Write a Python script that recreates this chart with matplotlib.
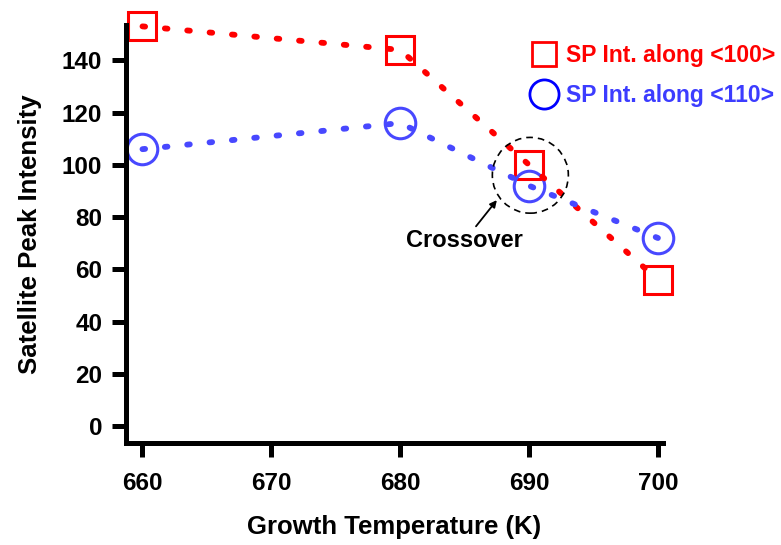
import matplotlib.pyplot as plt
from matplotlib.lines import Line2D
from matplotlib.patches import Ellipse

plt.rcParams["font.family"] = ["Liberation Sans", "DejaVu Sans"]
plt.rcParams["font.weight"] = "bold"

# growth temperatures and satellite peak intensities
temps = [660, 680, 690, 700]
sp_100 = [153, 144, 100, 56]
sp_110 = [106, 116, 92, 72]

red = "#ff0000"
blue_line = "#4848ff"
blue_text = "#3c3cff"

fig = plt.figure(figsize=(7.81, 5.45), dpi=100)
ax = fig.add_axes([0.161, 0.187, 0.688, 0.767])

dots = (0, (0.45, 3.4))
ax.plot(temps, sp_100, ls="none", marker="s", ms=20, mfc="none",
        mec=red, mew=2.2, zorder=2, clip_on=False)
ax.plot(temps, sp_110, ls="none", marker="o", ms=22, mfc="none",
        mec=blue_line, mew=2.2, zorder=2, clip_on=False)
ax.plot(temps, sp_100, color=red, lw=4.2, ls=dots,
        dash_capstyle="round", zorder=3, clip_on=False)
ax.plot(temps, sp_110, color=blue_line, lw=4.2, ls=dots,
        dash_capstyle="round", zorder=3, clip_on=False)

# dashed ring around the crossover point
ax.add_patch(Ellipse((690.1, 96), 5.9, 29, fill=False, ec="black",
                     lw=1.2, ls=(0, (4, 3)), zorder=4))
ax.annotate("Crossover", xy=(687.5, 86.5), xytext=(685.0, 71),
            ha="center", va="center", fontsize=17, fontweight="bold",
            arrowprops=dict(arrowstyle="-|>", color="black", lw=1.3,
                            mutation_scale=10, shrinkA=0, shrinkB=0))

ax.set_xlim(658.7, 700.4)
ax.set_ylim(-6.5, 153.5)
ax.set_xticks([660, 670, 680, 690, 700])
ax.set_yticks(range(0, 141, 20))

for s in ["top", "right"]:
    ax.spines[s].set_visible(False)
for s in ["left", "bottom"]:
    ax.spines[s].set_linewidth(3.6)
ax.tick_params(width=3.6, length=10, labelsize=17.5, pad=7)
for lab in ax.get_xticklabels() + ax.get_yticklabels():
    lab.set_fontweight("bold")
ax.tick_params(axis="x", pad=11)

ax.set_xlabel("Growth Temperature (K)", fontsize=18.5, fontweight="bold",
              labelpad=14)
ax.set_ylabel("Satellite Peak Intensity", fontsize=18.5, fontweight="bold",
              labelpad=14)

handles = [
    Line2D([], [], ls="none", marker="s", ms=17.5, mfc="none", mec=red, mew=2),
    Line2D([], [], ls="none", marker="o", ms=21, mfc="none", mec="#0000ff", mew=2),
]
leg = fig.legend(handles, ["SP Int. along <100>", "SP Int. along <110>"],
                 loc="upper left", bbox_to_anchor=(0.653, 0.957),
                 frameon=False, handletextpad=0.35,
                 labelspacing=0.75, handlelength=1.2,
                 prop={"weight": "bold", "size": 16.5})
leg.get_texts()[0].set_color(red)
leg.get_texts()[1].set_color(blue_text)

fig.savefig("out.png", dpi=100)
